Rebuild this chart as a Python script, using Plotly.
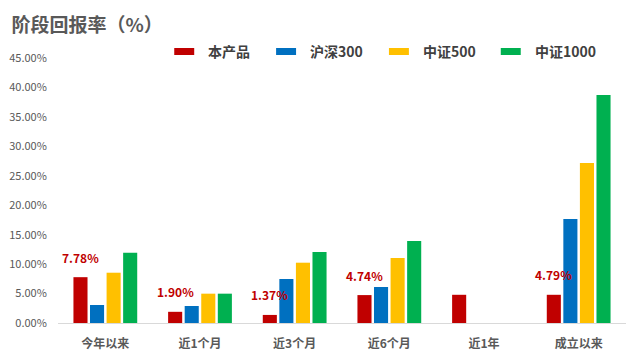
import plotly.graph_objects as go

categories = ["今年以来", "近1个月", "近3个月", "近6个月", "近1年", "成立以来"]
series_names = ["本产品", "沪深300", "中证500", "中证1000"]
product = [7.78, 1.90, 1.37, 4.74, 4.79, 4.79]
hs300 = [3.06, 2.89, 7.47, 6.11, None, 17.66]
zz500 = [8.54, 4.98, 10.24, 11.04, None, 27.17]
zz1000 = [11.94, 4.98, 12.06, 13.93, None, 38.72]
product_labels = ["7.78%", "1.90%", "1.37%", "4.74%", "", "4.79%"]
y_ticks = [0, 5, 10, 15, 20, 25, 30, 35, 40, 45]
y_tick_labels = ["0.00%", "5.00%", "10.00%", "15.00%", "20.00%", "25.00%",
                 "30.00%", "35.00%", "40.00%", "45.00%"]

colors = ["#C00000", "#0070C0", "#FFC000", "#00B050"]
all_series = [product, hs300, zz500, zz1000]

FONT = "Noto Sans CJK SC"

fig = go.Figure()
for name, vals, col in zip(series_names, all_series, colors):
    fig.add_trace(go.Bar(x=categories, y=vals, name=name, marker_color=col,
                         marker_line_width=0, showlegend=False))

# data labels for product series
for cat, val, lab in zip(categories, product, product_labels):
    if lab:
        fig.add_annotation(x=cat, y=val, text=lab, showarrow=False, xref="x", yref="y",
                           xshift=-25, yshift=20, yanchor="middle",
                           font=dict(family=FONT, size=12, color="#C00000", weight="bold"))

# manual legend (rectangular swatches)
sw_x = [174, 276, 389, 501]
for i, (name, col) in enumerate(zip(series_names, colors)):
    fig.add_shape(type="rect", xref="paper", yref="paper",
                  x0=(sw_x[i] - 57.6) / 568.8, x1=(sw_x[i] + 20 - 57.6) / 568.8,
                  y0=(323 - 55) / 265, y1=(323 - 48) / 265,
                  fillcolor=col, line_width=0)
    fig.add_annotation(xref="paper", yref="paper", x=(sw_x[i] + 32 - 57.6) / 568.8,
                       y=(323 - 51.5) / 265, text=name, showarrow=False,
                       xanchor="left", yanchor="middle",
                       font=dict(family=FONT, size=14, color="#404040", weight="bold"))

fig.update_layout(
    width=641, height=361,
    margin=dict(l=57.6, r=14.6, t=58, b=38),
    paper_bgcolor="white", plot_bgcolor="white",
    barmode="group", bargap=0.30, bargroupgap=0.15,
    font=dict(family=FONT, color="#595959"),
    title=dict(text="<b>阶段回报率（%）</b>", x=0.018, xanchor="left", y=0.93, yanchor="middle",
               font=dict(family=FONT, size=19, color="#595959")),
    xaxis=dict(showline=True, linecolor="#D9D9D9", linewidth=1, showgrid=False,
               ticks="outside", ticklen=10, tickcolor="rgba(0,0,0,0)", automargin=False,
               tickfont=dict(family=FONT, size=12, color="#595959", weight="bold")),
    yaxis=dict(range=[0, 45], tickvals=y_ticks, ticktext=y_tick_labels, automargin=False,
               showgrid=False, zeroline=False, showline=False,
               ticks="outside", ticklen=8, tickcolor="rgba(0,0,0,0)",
               tickfont=dict(family=FONT, size=11, color="#595959")),
)

fig.write_html("out.html")
